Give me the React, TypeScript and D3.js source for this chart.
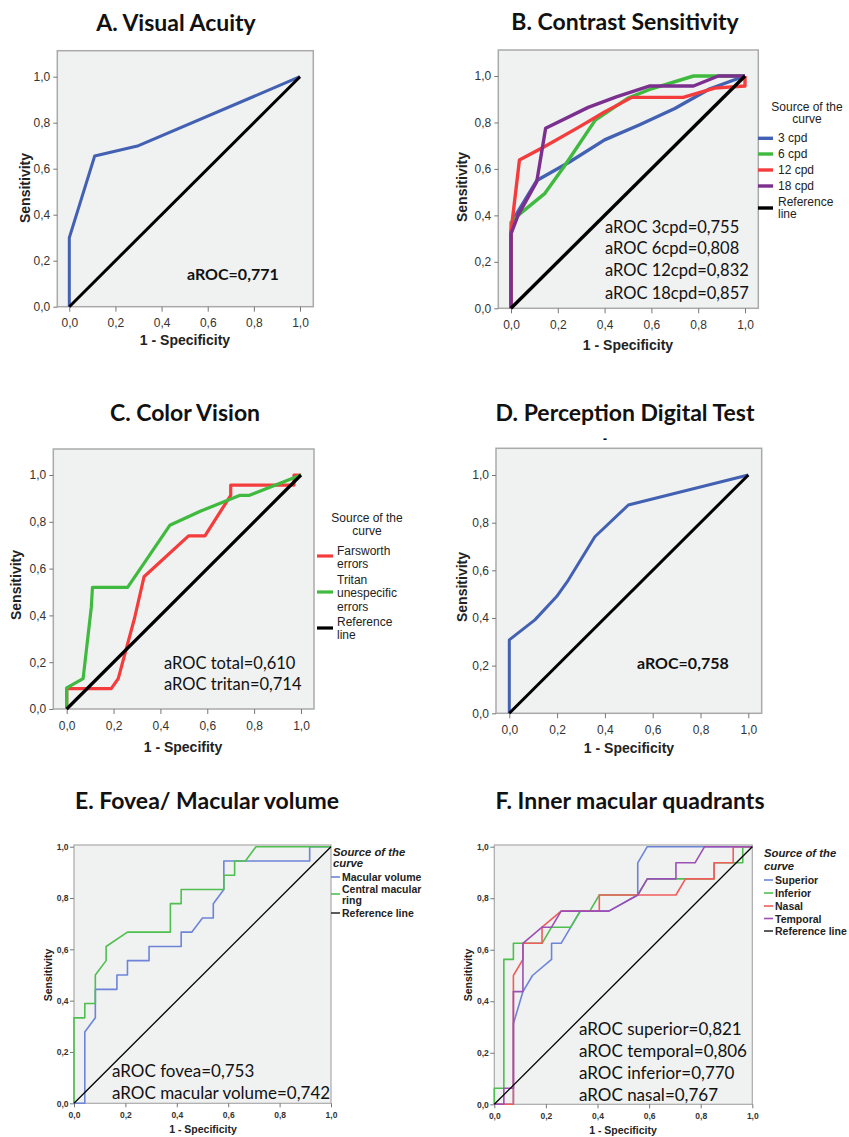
import React, { useEffect, useRef } from 'react';
import * as d3 from 'd3';

type Pt = [number, number];

const tickValues = [0, 0.2, 0.4, 0.6, 0.8, 1.0];
const referenceLine: Pt[] = [[0, 0], [1, 1]];

// A. visual acuity
const visualAcuity: Pt[] = [[0, 0], [0, 0.30], [0.11, 0.655], [0.30, 0.70], [1, 1]];
const aucVisual = ['aROC=0,771'];

// B. contrast sensitivity
const cs3cpd: Pt[] = [[0, 0], [0, 0.33], [0.02, 0.40], [0.11, 0.55], [0.25, 0.63], [0.40, 0.725], [0.55, 0.79], [0.70, 0.86], [0.85, 0.945], [1, 1]];
const cs6cpd: Pt[] = [[0, 0], [0, 0.37], [0.03, 0.40], [0.145, 0.495], [0.23, 0.615], [0.36, 0.81], [0.5, 0.905], [0.6, 0.945], [0.78, 1], [1, 1]];
const cs12cpd: Pt[] = [[0, 0], [0, 0.33], [0.036, 0.638], [0.15, 0.70], [0.29, 0.78], [0.40, 0.845], [0.516, 0.908], [0.736, 0.908], [0.87, 0.948], [1, 0.957], [1, 1]];
const cs18cpd: Pt[] = [[0, 0], [0, 0.32], [0.03, 0.40], [0.11, 0.545], [0.148, 0.775], [0.33, 0.865], [0.45, 0.91], [0.594, 0.957], [0.78, 0.957], [0.886, 1], [1, 1]];
const aucContrast = ['aROC 3cpd=0,755', 'aROC 6cpd=0,808', 'aROC 12cpd=0,832', 'aROC 18cpd=0,857'];

// C. color vision
const farnsworth: Pt[] = [[0, 0], [0, 0.087], [0.19, 0.087], [0.22, 0.13], [0.29, 0.39], [0.33, 0.565], [0.52, 0.74], [0.59, 0.74], [0.70, 0.913], [0.70, 0.957], [0.97, 0.957], [0.97, 1], [1, 1]];
const tritan: Pt[] = [[0, 0], [0, 0.09], [0.07, 0.13], [0.105, 0.435], [0.11, 0.52], [0.26, 0.52], [0.44, 0.785], [0.57, 0.845], [0.74, 0.913], [0.78, 0.913], [1, 1]];
const aucColor = ['aROC total=0,610', 'aROC tritan=0,714'];

// D. perception digital test
const perception: Pt[] = [[0, 0], [0, 0.308], [0.107, 0.392], [0.198, 0.49], [0.247, 0.559], [0.358, 0.741], [0.498, 0.874], [1, 1]];
const aucPerception = ['aROC=0,758'];

// E. fovea / macular volume
const macularVolume: Pt[] = [[0, 0], [0.042, 0], [0.042, 0.278], [0.083, 0.333], [0.083, 0.444], [0.167, 0.444], [0.167, 0.5], [0.208, 0.5], [0.208, 0.556], [0.292, 0.556], [0.292, 0.611], [0.417, 0.611], [0.417, 0.667], [0.458, 0.667], [0.5, 0.722], [0.542, 0.722], [0.542, 0.778], [0.583, 0.833], [0.583, 0.944], [0.917, 0.944], [0.917, 1], [1, 1]];
const centralRing: Pt[] = [[0, 0], [0, 0.333], [0.042, 0.333], [0.042, 0.389], [0.083, 0.389], [0.083, 0.5], [0.125, 0.556], [0.125, 0.611], [0.208, 0.667], [0.375, 0.667], [0.375, 0.778], [0.417, 0.778], [0.417, 0.833], [0.583, 0.833], [0.583, 0.889], [0.625, 0.889], [0.625, 0.944], [0.667, 0.944], [0.708, 1], [1, 1]];
const aucFovea = ['aROC fovea=0,753', 'aROC macular volume=0,742'];

// F. inner macular quadrants
const superior: Pt[] = [[0, 0], [0.074, 0], [0.074, 0.3125], [0.111, 0.4375], [0.148, 0.5], [0.222, 0.5625], [0.222, 0.625], [0.259, 0.625], [0.333, 0.75], [0.444, 0.75], [0.556, 0.8125], [0.556, 0.9375], [0.593, 1], [1, 1]];
const inferior: Pt[] = [[0, 0], [0, 0.0625], [0.037, 0.0625], [0.037, 0.5625], [0.074, 0.5625], [0.074, 0.625], [0.185, 0.625], [0.222, 0.6875], [0.296, 0.6875], [0.333, 0.75], [0.370, 0.75], [0.407, 0.8125], [0.556, 0.8125], [0.593, 0.875], [0.852, 0.875], [0.852, 0.9375], [0.963, 0.9375], [0.963, 1], [1, 1]];
const nasal: Pt[] = [[0, 0], [0.074, 0], [0.074, 0.5], [0.111, 0.5625], [0.111, 0.625], [0.185, 0.625], [0.185, 0.6875], [0.259, 0.75], [0.407, 0.75], [0.407, 0.8125], [0.704, 0.8125], [0.741, 0.875], [0.852, 0.875], [0.852, 0.9375], [0.926, 0.9375], [0.926, 1], [1, 1]];
const temporal: Pt[] = [[0, 0], [0.037, 0], [0.037, 0.0625], [0.074, 0.0625], [0.074, 0.4375], [0.111, 0.4375], [0.111, 0.625], [0.185, 0.6875], [0.222, 0.6875], [0.259, 0.75], [0.444, 0.75], [0.556, 0.8125], [0.593, 0.875], [0.704, 0.875], [0.704, 0.9375], [0.778, 0.9375], [0.815, 1], [1, 1]];
const aucQuadrants = ['aROC superior=0,821', 'aROC temporal=0,806', 'aROC inferior=0,770', 'aROC nasal=0,767'];

const BLUE = '#4361b3', GREEN = '#3fba3f', RED = '#f43c3c', PURPLE = '#7b2f8f', BLACK = '#000';
const LBLUE = '#6d84d8', LGREEN = '#4fc04f', LRED = '#f25c5c', LPURPLE = '#9c4fb6';

const TITLE_FONT = 'Lato, "Open Sans", sans-serif';
const AXIS_FONT = '"Liberation Sans", Arial, sans-serif';

const panels: any[] = [
  {
    title: 'A. Visual Acuity', titlePos: [176, 31], big: true,
    x0: 69.3, x1: 300, y0: 306.7, y1: 76.7, frame: [57.3, 50.7, 313.3, 306.7],
    xTitle: '1 - Specificity', xTitlePos: [185, 340], yTitlePos: [25, 188],
    curves: [{ data: visualAcuity, color: BLUE, w: 3 }, { data: referenceLine, color: BLACK, w: 3 }],
    notes: { lines: aucVisual, x: 187, ys: [273], size: 16, weight: 700 },
  },
  {
    title: 'B. Contrast Sensitivity', titlePos: [625, 30], big: true,
    x0: 511, x1: 745, y0: 308.3, y1: 76, frame: [498.3, 50, 758.3, 308.3],
    xTitle: '1 - Specificity', xTitlePos: [628, 345], yTitlePos: [462, 187],
    curves: [
      { data: cs3cpd, color: BLUE, w: 3.4 }, { data: cs6cpd, color: GREEN, w: 3.4 },
      { data: cs12cpd, color: RED, w: 3.4 }, { data: cs18cpd, color: PURPLE, w: 3.4 },
      { data: referenceLine, color: BLACK, w: 3.4 },
    ],
    notes: { lines: aucContrast, x: 605, ys: [227, 247.5, 269.5, 293], size: 16.5, weight: 400 },
    legend: {
      title: ['Source of the', 'curve'], titleX: 807, titleYs: [107, 119], anchor: 'middle', italic: false,
      size: 12, bold: false, sw: [758, 773], textX: 778, w: 3.4,
      items: [
        { color: BLUE, lines: ['3 cpd'], ys: [138.3], sy: 138.3 },
        { color: GREEN, lines: ['6 cpd'], ys: [154], sy: 154 },
        { color: RED, lines: ['12 cpd'], ys: [170], sy: 170 },
        { color: PURPLE, lines: ['18 cpd'], ys: [186], sy: 186 },
        { color: BLACK, lines: ['Reference', 'line'], ys: [202.3, 214.3], sy: 208 },
      ],
    },
  },
  {
    title: 'C. Color Vision', titlePos: [185, 421], big: true,
    x0: 66.7, x1: 301, y0: 709, y1: 475, frame: [53.3, 449, 314, 709],
    xTitle: '1 - Specifity', xTitlePos: [183, 747], yTitlePos: [16, 585],
    curves: [
      { data: farnsworth, color: RED, w: 3.2 }, { data: tritan, color: GREEN, w: 3.2 },
      { data: referenceLine, color: BLACK, w: 3.2 },
    ],
    notes: { lines: aucColor, x: 164, ys: [663, 683.5], size: 16.5, weight: 400 },
    legend: {
      title: ['Source of the', 'curve'], titleX: 367, titleYs: [518, 531], anchor: 'middle', italic: false,
      size: 12, bold: false, sw: [317, 333], textX: 337, w: 3.2,
      items: [
        { color: RED, lines: ['Farsworth', 'errors'], ys: [551, 564], sy: 556 },
        { color: GREEN, lines: ['Tritan', 'unespecific', 'errors'], ys: [580, 593, 606.5], sy: 592 },
        { color: BLACK, lines: ['Reference', 'line'], ys: [622, 635], sy: 628 },
      ],
    },
  },
  {
    title: 'D. Perception Digital Test', subtitle: '-', titlePos: [625, 421], big: true,
    x0: 509.3, x1: 748.3, y0: 713.3, y1: 475, frame: [496, 448.3, 761.7, 713.3],
    xTitle: '1 - Specificity', xTitlePos: [629, 748], yTitlePos: [462, 587],
    curves: [{ data: perception, color: BLUE, w: 3 }, { data: referenceLine, color: BLACK, w: 3 }],
    notes: { lines: aucPerception, x: 637, ys: [662], size: 16, weight: 700 },
  },
  {
    title: 'E. Fovea/ Macular volume', titlePos: [207, 809], big: false,
    x0: 74, x1: 331, y0: 1103.3, y1: 846.7, frame: [74, 845, 331, 1103.3],
    xTitle: '1 - Specificity', xTitlePos: [203, 1129], yTitlePos: [48, 975],
    curves: [
      { data: macularVolume, color: LBLUE, w: 1.6 }, { data: centralRing, color: LGREEN, w: 1.6 },
      { data: referenceLine, color: BLACK, w: 1.3 },
    ],
    notes: { lines: aucFovea, x: 112, ys: [1070, 1092], size: 17, weight: 400 },
    legend: {
      title: ['Source of the', 'curve'], titleX: 333, titleYs: [852, 863], anchor: 'start', italic: true,
      size: 10.5, bold: true, sw: [331, 340], textX: 342, w: 1.6,
      items: [
        { color: LBLUE, lines: ['Macular volume'], ys: [877], sy: 877 },
        { color: LGREEN, lines: ['Central macular', 'ring'], ys: [889, 900], sy: 894 },
        { color: '#333', lines: ['Reference line'], ys: [913], sy: 913 },
      ],
    },
  },
  {
    title: 'F. Inner macular quadrants', titlePos: [630, 809], big: false,
    x0: 494.3, x1: 752.3, y0: 1104.3, y1: 846.7, frame: [494.3, 845, 752.3, 1104.3],
    xTitle: '1 - Specificity', xTitlePos: [623, 1130], yTitlePos: [468, 975],
    curves: [
      { data: superior, color: LBLUE, w: 1.6 }, { data: inferior, color: LGREEN, w: 1.6 },
      { data: nasal, color: LRED, w: 1.6 }, { data: temporal, color: LPURPLE, w: 1.6 },
      { data: referenceLine, color: BLACK, w: 1.3 },
    ],
    notes: { lines: aucQuadrants, x: 579, ys: [1028, 1050, 1072, 1094], size: 17, weight: 400 },
    legend: {
      title: ['Source of the', 'curve'], titleX: 764, titleYs: [853, 866], anchor: 'start', italic: true,
      size: 10.5, bold: true, sw: [764, 773], textX: 775, w: 1.6,
      items: [
        { color: LBLUE, lines: ['Superior'], ys: [880], sy: 880 },
        { color: LGREEN, lines: ['Inferior'], ys: [893], sy: 893 },
        { color: LRED, lines: ['Nasal'], ys: [906], sy: 906 },
        { color: LPURPLE, lines: ['Temporal'], ys: [918.5], sy: 918.5 },
        { color: '#333', lines: ['Reference line'], ys: [931], sy: 931 },
      ],
    },
  },
];

function drawPanel(svg: any, p: any) {
  const x = d3.scaleLinear().domain([0, 1]).range([p.x0, p.x1]);
  const y = d3.scaleLinear().domain([0, 1]).range([p.y0, p.y1]);
  const [fl, ft, fr, fb] = p.frame;
  const big = p.big;

  svg.append('text')
    .attr('x', p.titlePos[0]).attr('y', p.titlePos[1])
    .attr('text-anchor', 'middle')
    .attr('fill', '#111')
    .style('font-family', TITLE_FONT).style('font-weight', 700).style('font-size', '23px')
    .text(p.title);
  if (p.subtitle) {
    svg.append('text')
      .attr('x', 605).attr('y', p.titlePos[1] + 22)
      .attr('text-anchor', 'middle')
      .style('font-family', AXIS_FONT).style('font-weight', 700).style('font-size', '12px')
      .text(p.subtitle);
  }

  svg.append('rect')
    .attr('x', fl).attr('y', ft).attr('width', fr - fl).attr('height', fb - ft)
    .attr('fill', '#f0f1f1').attr('stroke', '#aaa').attr('stroke-width', big ? 1.5 : 1.2);

  const fmt = (d: number) => d.toFixed(1).replace('.', ',');
  const yAxis = svg.append('g').attr('transform', `translate(${fl},0)`)
    .call(d3.axisLeft(y).tickValues(tickValues).tickFormat(fmt as any).tickSize(4).tickPadding(big ? 3 : 1.5));
  const xAxis = svg.append('g').attr('transform', `translate(0,${fb})`)
    .call(d3.axisBottom(x).tickValues(tickValues).tickFormat(fmt as any).tickSize(big ? 5 : 4).tickPadding(big ? 7 : 4.5));
  [yAxis, xAxis].forEach((a) => {
    a.select('.domain').remove();
    a.selectAll('line').attr('stroke', '#777');
    a.selectAll('text')
      .attr('fill', '#333')
      .style('font-family', AXIS_FONT)
      .style('font-size', big ? '12px' : '8.5px')
      .style('font-weight', big ? 400 : 700);
  });

  svg.append('text')
    .attr('transform', `translate(${p.yTitlePos[0]},${p.yTitlePos[1]}) rotate(-90)`)
    .attr('text-anchor', 'middle').attr('dominant-baseline', 'central')
    .attr('fill', '#222')
    .style('font-family', AXIS_FONT).style('font-weight', 700).style('font-size', big ? '14px' : '10.5px')
    .text('Sensitivity');
  svg.append('text')
    .attr('x', p.xTitlePos[0]).attr('y', p.xTitlePos[1])
    .attr('text-anchor', 'middle').attr('dominant-baseline', 'central')
    .attr('fill', '#222')
    .style('font-family', AXIS_FONT).style('font-weight', 700).style('font-size', big ? '14px' : '10.5px')
    .text(p.xTitle);

  const line = d3.line<Pt>().x((d) => x(d[0])).y((d) => y(d[1]));
  p.curves.forEach((c: any) => {
    svg.append('path')
      .attr('d', line(c.data))
      .attr('fill', 'none')
      .attr('stroke', c.color)
      .attr('stroke-width', c.w)
      .attr('stroke-linejoin', 'round');
  });

  const n = p.notes;
  n.lines.forEach((t: string, i: number) => {
    svg.append('text')
      .attr('x', n.x).attr('y', n.ys[i])
      .attr('dominant-baseline', 'central')
      .attr('fill', '#111')
      .style('font-family', TITLE_FONT).style('font-weight', n.weight).style('font-size', n.size + 'px')
      .text(t);
  });

  const lg = p.legend;
  if (!lg) return;
  lg.title.forEach((t: string, i: number) => {
    svg.append('text')
      .attr('x', lg.titleX).attr('y', lg.titleYs[i])
      .attr('text-anchor', lg.anchor).attr('dominant-baseline', 'central')
      .attr('fill', '#222')
      .style('font-family', AXIS_FONT)
      .style('font-size', (lg.italic ? lg.size + 0.8 : lg.size) + 'px')
      .style('font-weight', lg.bold ? 700 : 400)
      .style('font-style', lg.italic ? 'italic' : 'normal')
      .text(t);
  });
  lg.items.forEach((it: any) => {
    svg.append('line')
      .attr('x1', lg.sw[0]).attr('x2', lg.sw[1])
      .attr('y1', it.sy).attr('y2', it.sy)
      .attr('stroke', it.color).attr('stroke-width', lg.w);
    it.lines.forEach((t: string, i: number) => {
      svg.append('text')
        .attr('x', lg.textX).attr('y', it.ys[i])
        .attr('dominant-baseline', 'central')
        .attr('fill', '#222')
        .style('font-family', AXIS_FONT)
        .style('font-size', lg.size + 'px')
        .style('font-weight', lg.bold ? 700 : 400)
        .text(t);
    });
  });
}

export default function App() {
  const ref = useRef<SVGSVGElement>(null);

  useEffect(() => {
    const svg = d3.select(ref.current);
    svg.selectAll('*').remove();
    panels.forEach((p) => drawPanel(svg, p));
  }, []);

  return (
    <svg
      ref={ref}
      width={849}
      height={1137}
      style={{ position: 'absolute', left: 0, top: 0, background: '#fff' }}
    />
  );
}
